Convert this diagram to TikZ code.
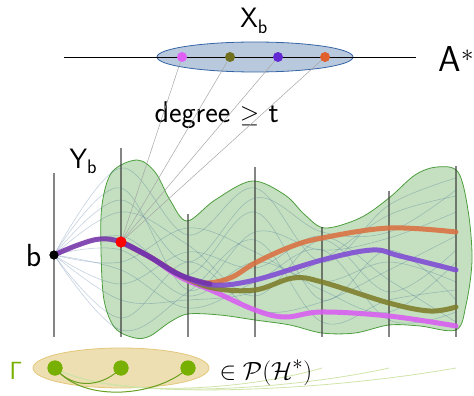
\documentclass[tikz,border=0pt]{standalone}
\usetikzlibrary{positioning,shapes.geometric}
\definecolor{blobfill}{HTML}{C4E0C0}
\definecolor{blobline}{HTML}{4E9E3E}
\definecolor{setfill}{HTML}{B9C9DD}
\definecolor{setline}{HTML}{3565A5}
\definecolor{hullfill}{HTML}{EEDFB2}
\definecolor{hullline}{HTML}{E3C77A}
\definecolor{dotpink}{HTML}{E060F5}
\definecolor{dotolive}{HTML}{707020}
\definecolor{dotviolet}{HTML}{6228D4}
\definecolor{dotrust}{HTML}{E0602E}
\definecolor{runpink}{HTML}{D95CF2}
\definecolor{runolive}{HTML}{7E7E2A}
\definecolor{runviolet}{HTML}{7F4AD6}
\definecolor{runrust}{HTML}{DA7040}
\definecolor{runstem}{HTML}{7433A8}
\definecolor{walkline}{HTML}{2E5A92}
\definecolor{gammagreen}{HTML}{77B000}
\definecolor{gammaedge}{HTML}{6AA020}
\definecolor{gammafaint}{HTML}{CFE4A8}
\tikzset{
  layer/.style={
    draw=black!80,
    line width=1.3pt,
    opacity=0.6
  },
  walk/.style={
    draw=walkline,
    line width=0.6pt,
    opacity=0.28
  },
  run/.style={
    line width=5pt,
    line cap=round,
    opacity=0.88
  },
  degreeline/.style={
    draw=black!35,
    line width=0.5pt
  },
  vertex/.style={
    circle,
    inner sep=0pt,
    minimum size=10pt
  },
  sublabel/.style={
    text=black,
    font=\sffamily\fontsize{28}{32}\selectfont
  }
}

\begin{document}
\begin{tikzpicture}[x=1pt,y=-1pt]
  \useasboundingbox (0,0) rectangle (474,396);

  % the set X_b on A*
  \node[ellipse, draw=setline, fill=setfill, line width=0.8pt,
        minimum width=196pt, minimum height=30pt, inner sep=0pt] (xset) at (255,57) {};
  \coordinate (aleft) at (64,57);
  \coordinate (aright) at (416,57);
  \draw[line width=0.8pt] (aleft) -- (aright);
  \node[sublabel, anchor=base] (xlabel) at (254,28) {X\textsubscript{b}};
  \node[sublabel, anchor=base west, font=\sffamily\fontsize{36}{40}\selectfont] (alabel) at (435,71) {A$^{*}$};
  \node[sublabel, anchor=base west, font=\sffamily\fontsize{30}{34}\selectfont] (dlabel) at (151,122) {degree $\geq$ t};

  % hull of the walks
  \draw[draw=blobline, fill=blobfill, line width=0.8pt]
    plot[smooth cycle, tension=0.55] coordinates {
      (101,250) (102,205) (112,172) (137,160) (155,172) (170,200)
      (187,221) (215,200) (252,181) (285,195) (305,215) (325,228)
      (360,218) (389,198) (415,175) (437,167) (458,172) (468,210)
      (472,260) (466,305) (456,330) (420,326) (389,325) (355,333)
      (322,333) (290,325) (255,320) (220,315) (188,314) (170,322)
      (150,336) (135,338) (115,328) (104,300)};

  % layers
  \draw[layer] (54,173) -- (54,337);
  \draw[layer] (121,148) -- (121,337);
  \draw[layer] (188,214) -- (188,337);
  \draw[layer] (255,167) -- (255,337);
  \draw[layer] (322,227) -- (322,337);
  \draw[layer] (389,191) -- (389,337);
  \draw[layer] (456,166) -- (456,337);

  \node[vertex, fill=black, minimum size=9pt] (bdot) at (54,255) {};
  \node[sublabel, anchor=base east, font=\sffamily\fontsize{32}{36}\selectfont] (blabel) at (45,266) {b};
  \node[sublabel, anchor=base west] (ylabel) at (66,168) {Y\textsubscript{b}};

  % walks from b
  \draw[walk] plot[smooth, tension=0.6] coordinates {(bdot.center) (121,168) (188,235) (255,188) (322,262) (389,205) (456,178)};
  \draw[walk] plot[smooth, tension=0.6] coordinates {(bdot.center) (121,188) (188,290) (255,232) (322,250) (389,238) (456,212)};
  \draw[walk] plot[smooth, tension=0.6] coordinates {(bdot.center) (121,212) (188,245) (255,296) (322,240) (389,292) (456,250)};
  \draw[walk] plot[smooth, tension=0.6] coordinates {(bdot.center) (121,236) (188,275) (255,212) (322,300) (389,250) (456,300)};
  \draw[walk] plot[smooth, tension=0.6] coordinates {(bdot.center) (121,262) (188,228) (255,252) (322,290) (389,312) (456,262)};
  \draw[walk] plot[smooth, tension=0.6] coordinates {(bdot.center) (121,284) (188,252) (255,268) (322,236) (389,280) (456,322)};
  \draw[walk] plot[smooth, tension=0.6] coordinates {(bdot.center) (121,300) (188,300) (255,292) (322,260) (389,215) (456,196)};
  \draw[walk] plot[smooth, tension=0.6] coordinates {(bdot.center) (121,318) (188,262) (255,310) (322,302) (389,270) (456,236)};
  \draw[walk] plot[smooth, tension=0.6] coordinates {(bdot.center) (121,330) (188,292) (255,240) (322,322) (389,300) (456,290)};
  \draw[walk] plot[smooth, tension=0.6] coordinates {(bdot.center) (121,270) (188,308) (255,282) (322,250) (389,320) (456,312)};
  \draw[walk] plot[smooth, tension=0.6] coordinates {(bdot.center) (121,200) (188,262) (255,198) (322,232) (389,232) (456,190)};
  \draw[walk] plot[smooth, tension=0.6] coordinates {(bdot.center) (121,250) (188,296) (255,262) (322,282) (389,262) (456,282)};

  \node[vertex, fill=red, minimum size=11pt] (rdot) at (121,242) {};

  % the four runs
  \draw[run, draw=runpink] plot[smooth, tension=0.6] coordinates {(rdot.center) (150,257) (180,277) (213,291) (255,310) (285,317) (322,312) (389,316) (456,326)};
  \draw[run, draw=runolive] plot[smooth, tension=0.6] coordinates {(rdot.center) (150,257) (180,275) (213,288) (255,290) (293,278) (322,282) (389,303) (430,311) (456,307)};
  \draw[run, draw=runrust] plot[smooth, tension=0.6] coordinates {(rdot.center) (150,257) (180,275) (203,283) (230,278) (255,263) (290,247) (322,238) (389,228) (456,232)};
  \draw[run, draw=runviolet] plot[smooth, tension=0.6] coordinates {(rdot.center) (150,257) (180,275) (213,285) (255,280) (322,260) (372,250) (400,256) (456,270)};
  \draw[run, draw=runstem] plot[smooth, tension=0.6] coordinates {(bdot.center) (78,245) (100,239) (rdot.center) (150,257) (180,275) (210,284)};

  % points of X_b
  \node[vertex, fill=dotpink] (xpink) at (182,57) {};
  \node[vertex, fill=dotolive] (xolive) at (230,57) {};
  \node[vertex, fill=dotviolet] (xviolet) at (278,57) {};
  \node[vertex, fill=dotrust] (xrust) at (325,57) {};
  \draw[degreeline] (rdot.center) -- (xpink);
  \draw[degreeline] (rdot.center) -- (xolive);
  \draw[degreeline] (rdot.center) -- (xviolet);
  \draw[degreeline] (rdot.center) -- (xrust);
  \node[vertex, fill=red, minimum size=11pt] at (rdot) {};
  \node[vertex, fill=black, minimum size=9pt] at (bdot) {};

  % Gamma
  \node[ellipse, draw=hullline, fill=hullfill, line width=0.8pt,
        minimum width=176pt, minimum height=40pt, inner sep=0pt] (gset) at (121,368) {};
  \node[sublabel, anchor=base west, text=gammagreen, font=\sffamily\fontsize{30}{34}\selectfont] (glabel) at (6,379) {$\mathsf{\Gamma}$};
  \node[vertex, fill=gammagreen, minimum size=15pt] (gone) at (55,368) {};
  \node[vertex, fill=gammagreen, minimum size=15pt] (gtwo) at (121,368) {};
  \node[vertex, fill=gammagreen, minimum size=15pt] (gthree) at (188,368) {};
  \coordinate (gfive) at (322,368);
  \coordinate (gsix) at (389,368);
  \coordinate (gseven) at (456,368);
  \draw[gammafaint, line width=0.8pt] (gone.center) .. controls (110,398) and (240,392) .. (gfive);
  \draw[gammafaint, line width=0.8pt] (gone.center) .. controls (110,400) and (280,392) .. (gsix);
  \draw[gammafaint, line width=0.8pt] (gone.center) .. controls (110,402) and (320,392) .. (gseven);
  \draw[gammaedge, line width=1pt] (gone.center) .. controls (75,392) and (105,385) .. (gtwo.center);
  \draw[gammaedge, line width=1pt] (gone.center) .. controls (85,405) and (160,395) .. (gthree.center);
  \node[vertex, fill=gammagreen, minimum size=15pt] at (gone) {};
  \node[vertex, fill=gammagreen, minimum size=15pt] at (gtwo) {};
  \node[vertex, fill=gammagreen, minimum size=15pt] at (gthree) {};
  \node[anchor=base west, font=\fontsize{30}{34}\selectfont] (plabel) at (216,379) {$\in\mathcal{P}(\mathcal{H}^{*})$};
\end{tikzpicture}
\end{document}
